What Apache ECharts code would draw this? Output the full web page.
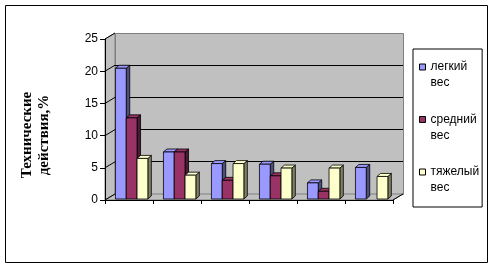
<!DOCTYPE html>
<html><head><meta charset="utf-8">
<script src="https://cdn.jsdelivr.net/npm/echarts@6/dist/echarts.min.js"></script>
<style>html,body{margin:0;padding:0;background:#fff}#c{width:494px;height:268px}</style>
</head><body><div id="c"></div>
<script>
const categories = ['1', '2', '3', '4', '5', '6'];
const seriesNames = ['легкий вес', 'средний вес', 'тяжелый вес'];
const lightValues = [20.3, 7.3, 5.5, 5.4, 2.5, 4.9];
const mediumValues = [12.6, 7.3, 2.9, 3.6, 1.2, 0];
const heavyValues = [6.3, 3.7, 5.5, 4.8, 4.8, 3.5];
const yTicks = [0, 5, 10, 15, 20, 25];
const axisTitle = ['Технические', 'действия,%'];

const frontColors = ['#9999FF', '#993366', '#FFFFCC'];
const sideColors = ['#4D4D80', '#4D1A33', '#808066'];
const topColors = ['#9999FF', '#993366', '#FFFFCC'];
const DX = 10, DY = -6;
const BDX = 3.5, BDY = -3;

function crisp(v) { return Math.round(v - 0.5) + 0.5; }

function renderWalls(params, api) {
  const cs = params.coordSys;
  const x0 = cs.x, y0 = cs.y, w = cs.width, h = cs.height;
  const yb = y0 + h;
  const wall = {fill: '#C0C0C0', stroke: '#808080', lineWidth: 1};
  const ch = [];
  ch.push({type: 'rect', shape: {x: crisp(x0 + DX), y: crisp(y0 + DY), width: Math.round(w), height: Math.round(h)}, style: wall});
  ch.push({type: 'polygon', shape: {points: [[x0, y0], [x0 + DX, y0 + DY], [x0 + DX, yb + DY], [x0, yb]]}, style: wall});
  ch.push({type: 'polygon', shape: {points: [[x0, yb], [x0 + DX, yb + DY], [x0 + w + DX, yb + DY], [x0 + w, yb]]}, style: wall});
  yTicks.forEach(function (v) {
    const y = api.coord([0, v])[1];
    if (v > 0 && v < yTicks[yTicks.length - 1]) {
      ch.push({type: 'line', shape: {x1: x0 + DX, y1: crisp(y + DY), x2: x0 + w + DX, y2: crisp(y + DY)}, style: {stroke: '#000', lineWidth: 1}});
    }
    ch.push({type: 'line', shape: {x1: x0, y1: y, x2: x0 + DX, y2: y + DY}, style: {stroke: '#000', lineWidth: 1}});
  });
  ch.push({type: 'line', shape: {x1: x0 + w, y1: yb, x2: x0 + w + DX, y2: yb + DY}, style: {stroke: '#000', lineWidth: 1}});
  return {type: 'group', children: ch};
}

function barRenderer(k) {
  return function (params, api) {
    const i = api.value(0), v = api.value(1);
    if (!(v > 0)) return null;
    const band = api.size([1, 0])[0];
    const bw = band * 0.225;
    const c = api.coord([i, v]);
    const b = api.coord([i, 0]);
    const x = c[0] - 1.5 * bw + k * bw + band * 0.055;
    const top = c[1] - 1, base = b[1] - 1;
    const st = {stroke: '#000', lineWidth: 0.8};
    return {type: 'group', children: [
      {type: 'polygon', shape: {points: [[x + bw, top], [x + bw + BDX, top + BDY], [x + bw + BDX, base + BDY], [x + bw, base]]}, style: Object.assign({fill: sideColors[k]}, st)},
      {type: 'polygon', shape: {points: [[x, top], [x + BDX, top + BDY], [x + bw + BDX, top + BDY], [x + bw, top]]}, style: Object.assign({fill: topColors[k]}, st)},
      {type: 'rect', shape: {x: x, y: top, width: bw, height: base - top}, style: Object.assign({fill: frontColors[k]}, st)}
    ]};
  };
}

const valueSets = [lightValues, mediumValues, heavyValues];
const series = [{
  type: 'custom', name: '__walls', z: 1, silent: true,
  renderItem: renderWalls, data: [[0, 0]], encode: {x: 0, y: 1}
}];
valueSets.forEach(function (vals, k) {
  series.push({
    type: 'custom', name: seriesNames[k], z: 2 + k, silent: true,
    itemStyle: {color: frontColors[k]},
    renderItem: barRenderer(k),
    data: vals.map(function (v, i) { return [i, v]; }),
    encode: {x: 0, y: 1}
  });
});

const chart = echarts.init(document.getElementById('c'), null, {renderer: 'canvas'});
chart.setOption({
  animation: false,
  backgroundColor: '#fff',
  grid: {left: 105, top: 39, width: 288, height: 161, containLabel: false},
  xAxis: {
    type: 'category', data: categories, z: 10,
    axisLine: {show: true, lineStyle: {color: '#000', width: 1}},
    axisTick: {show: true, length: 4, lineStyle: {color: '#000'}},
    axisLabel: {show: false}, splitLine: {show: false}
  },
  yAxis: {
    type: 'value', min: 0, max: 25, interval: 5, z: 10,
    axisLine: {show: true, lineStyle: {color: '#000', width: 1}},
    axisTick: {show: true, length: 5, lineStyle: {color: '#000'}},
    axisLabel: {color: '#000', fontFamily: 'Liberation Sans', fontSize: 12, margin: 7},
    splitLine: {show: false}
  },
  legend: {
    orient: 'vertical', left: 413, top: 49, selectedMode: false,
    padding: [10, 3, 11, 6], itemGap: 20.5, itemWidth: 6, itemHeight: 22,
    borderColor: '#000', borderWidth: 1, backgroundColor: '#fff',
    icon: 'path://M0,0h6v6h-6zM0,22',
    itemStyle: {borderColor: '#000', borderWidth: 1},
    textStyle: {fontFamily: 'Liberation Sans', fontSize: 12, lineHeight: 16, color: '#000'},
    formatter: function (n) { return n.replace(' ', '\n'); },
    data: seriesNames
  },
  graphic: [
    {type: 'rect', silent: true, z: 0, shape: {x: 5.5, y: 5.5, width: 482, height: 257}, style: {fill: 'none', stroke: '#000', lineWidth: 1}},
    {type: 'text', silent: true, x: 35.5, y: 135, rotation: Math.PI / 2,
      style: {text: axisTitle.join('\n'), font: 'bold 15px "Liberation Serif"', fill: '#000', align: 'center', verticalAlign: 'middle', lineHeight: 17}}
  ],
  series: series
});
</script></body></html>
